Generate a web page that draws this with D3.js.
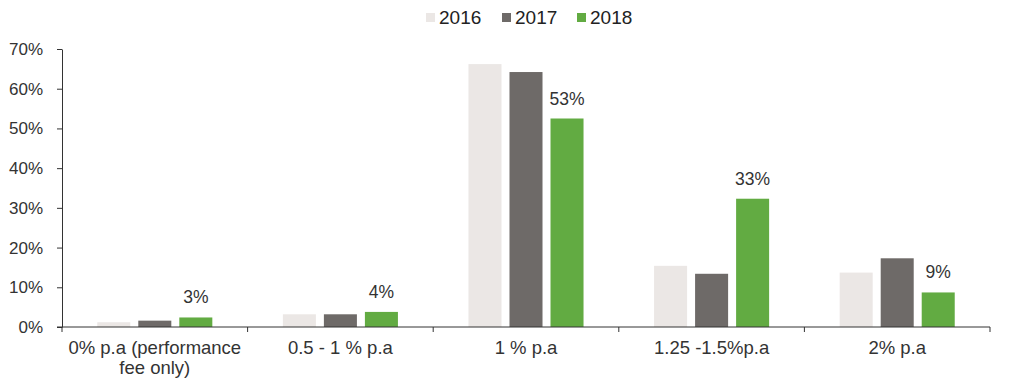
<!DOCTYPE html>
<html>
<head>
<meta charset="utf-8">
<script src="https://cdn.jsdelivr.net/npm/d3@7"></script>
<style>
  html, body { margin: 0; padding: 0; background: #fff; }
  svg { display: block; font-family: "Liberation Sans", Arial, sans-serif; }
</style>
</head>
<body>
<svg id="chart" width="1016" height="391"></svg>
<script>
const categories = [["0% p.a (performance", "fee only)"], ["0.5 - 1 % p.a"], ["1 % p.a"], ["1.25 -1.5%p.a"], ["2% p.a"]];
const seriesNames = ["2016", "2017", "2018"];
const values2016 = [1.2, 3.2, 66.2, 15.4, 13.7];
const values2017 = [1.6, 3.2, 64.2, 13.4, 17.3];
const values2018 = [2.4, 3.8, 52.5, 32.3, 8.7];
const labels2018 = ["3%", "4%", "53%", "33%", "9%"];
const yTicks = [0, 10, 20, 30, 40, 50, 60, 70];
const colors = ["#ebe7e5", "#6e6a68", "#62ab42"];

const seriesValues = [values2016, values2017, values2018];
const svg = d3.select("#chart");

const x0 = d3.scaleBand().domain(d3.range(categories.length)).range([62, 990]).paddingInner(0).paddingOuter(0);
const x1 = d3.scaleBand().domain(d3.range(seriesNames.length)).range([0, x0.bandwidth()]).paddingInner(0.195).paddingOuter(0.86);
const y = d3.scaleLinear().domain([0, 70]).range([327, 49]);

// bars
const groups = svg.append("g").selectAll("g")
  .data(categories.map((c, i) => i))
  .join("g")
  .attr("transform", i => `translate(${x0(i)},0)`);

groups.selectAll("rect")
  .data(i => seriesValues.map((s, k) => ({k, v: s[i]})))
  .join("rect")
  .attr("x", d => x1(d.k))
  .attr("width", x1.bandwidth())
  .attr("y", d => y(d.v))
  .attr("height", d => y(0) - y(d.v))
  .attr("fill", d => colors[d.k]);

// data labels for 2018
svg.append("g").selectAll("text")
  .data(values2018.map((v, i) => ({i, v, t: labels2018[i]})))
  .join("text")
  .attr("x", d => x0(d.i) + x1(2) + x1.bandwidth() / 2)
  .attr("y", d => y(d.v) - 14)
  .attr("text-anchor", "middle")
  .attr("font-size", 17.5)
  .attr("fill", "#333")
  .text(d => d.t);

// y axis
const yAxis = d3.axisLeft(y).tickValues(yTicks).tickFormat(d => d + "%").tickSize(5).tickSizeOuter(0);
const gy = svg.append("g").attr("transform", "translate(62,0)").call(yAxis);
gy.select(".domain").attr("stroke", "#333");
gy.selectAll(".tick line").attr("stroke", "#333");
gy.selectAll(".tick text").attr("font-size", 17).attr("fill", "#333").attr("x", -19)
  .attr("font-family", "Liberation Sans, Arial, sans-serif");

// x axis line + ticks at category boundaries
const bounds = d3.range(categories.length + 1).map(i => i < categories.length ? x0(i) : x0.range()[1]);
svg.append("line").attr("x1", 57).attr("x2", 990).attr("y1", y(0)).attr("y2", y(0)).attr("stroke", "#333");
svg.append("g").selectAll("line").data(bounds).join("line")
  .attr("x1", d => d).attr("x2", d => d)
  .attr("y1", y(0)).attr("y2", y(0) + 5).attr("stroke", "#333");

// category labels
const catText = svg.append("g").selectAll("text")
  .data(categories.map((c, i) => ({c, i})))
  .join("text")
  .attr("x", d => x0(d.i) + x0.bandwidth() / 2)
  .attr("y", 354)
  .attr("text-anchor", "middle")
  .attr("font-size", 18.5)
  .attr("fill", "#333");
catText.selectAll("tspan")
  .data(d => d.c.map((line, j) => ({line, j, x: x0(d.i) + x0.bandwidth() / 2})))
  .join("tspan")
  .attr("x", d => d.x)
  .attr("dy", d => d.j === 0 ? 0 : 20)
  .text(d => d.line);

// legend
const legendX = [426, 502, 577];
const legend = svg.append("g").selectAll("g")
  .data(seriesNames.map((n, k) => ({n, k})))
  .join("g")
  .attr("transform", d => `translate(${legendX[d.k]},0)`);
legend.append("rect").attr("x", 0).attr("y", 13).attr("width", 9).attr("height", 9)
  .attr("fill", d => colors[d.k]);
legend.append("text").attr("x", 13).attr("y", 24).attr("font-size", 19).attr("fill", "#222")
  .text(d => d.n);
</script>
</body>
</html>
